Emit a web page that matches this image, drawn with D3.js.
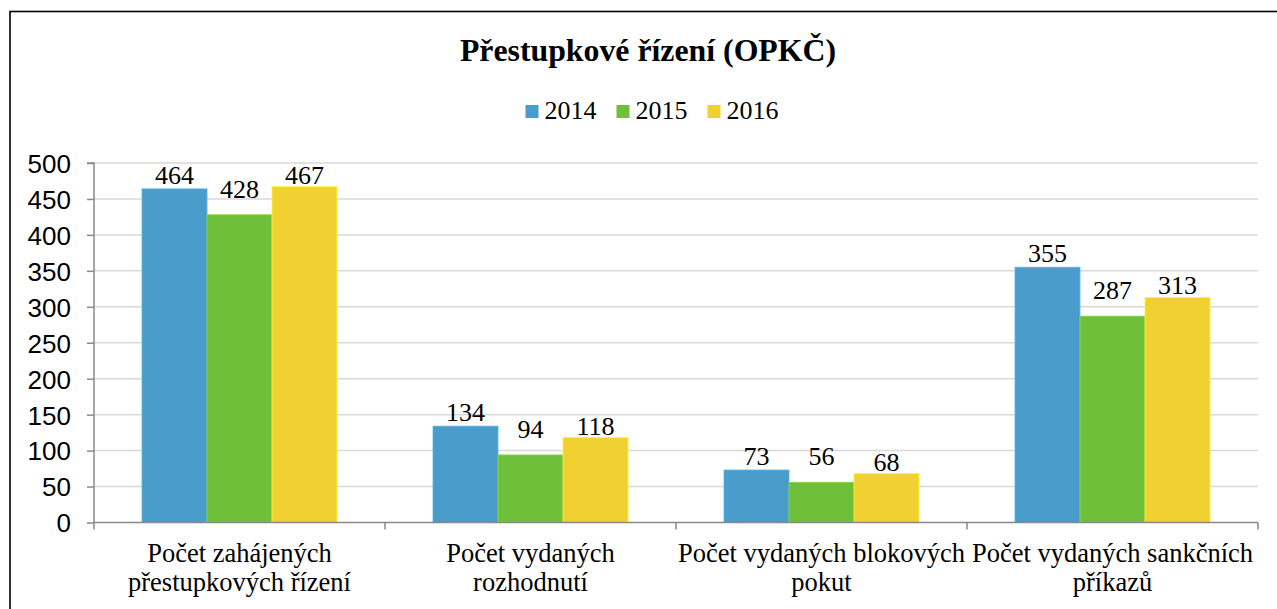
<!DOCTYPE html>
<html>
<head>
<meta charset="utf-8">
<script src="https://cdn.jsdelivr.net/npm/d3@7"></script>
<style>
  html, body { margin: 0; padding: 0; background: #fff; }
  svg { display: block; }
</style>
</head>
<body>
<svg id="chart" width="1277" height="609"></svg>
<script>
const title = "Přestupkové řízení (OPKČ)";
const categories = [
  ["Počet zahájených", "přestupkových řízení"],
  ["Počet vydaných", "rozhodnutí"],
  ["Počet vydaných blokových", "pokut"],
  ["Počet vydaných sankčních", "příkazů"]
];
const seriesNames = ["2014", "2015", "2016"];
const values2014 = [464, 134, 73, 355];
const values2015 = [428, 94, 56, 287];
const values2016 = [467, 118, 68, 313];
const yTicks = [0, 50, 100, 150, 200, 250, 300, 350, 400, 450, 500];

const seriesValues = [values2014, values2015, values2016];
const colors = ["#4a9ccb", "#70bf3a", "#f1d131"];
const labelLift = [5, 17, 3];

const svg = d3.select("#chart");
const serif = "Liberation Serif, Times New Roman, serif";
const sans = "Liberation Sans, Arial, sans-serif";

// chart frame
svg.append("rect").attr("x", 10).attr("y", 11.5).attr("width", 1290).attr("height", 620)
  .attr("fill", "none").attr("stroke", "#000").attr("stroke-width", 1.6);

const plot = { left: 94, right: 1258, top: 163, bottom: 522.5 };

const x0 = d3.scaleBand().domain(d3.range(categories.length))
  .range([plot.left, plot.right]).paddingInner(0).paddingOuter(0);
const groupW = 195;
const x1 = d3.scaleBand().domain(d3.range(seriesNames.length)).range([0, groupW]);
const y = d3.scaleLinear().domain([0, 500]).range([plot.bottom, plot.top]);

// gridlines
svg.append("g").selectAll("line").data(yTicks.filter(d => d > 0)).join("line")
  .attr("x1", plot.left).attr("x2", plot.right)
  .attr("y1", d => y(d)).attr("y2", d => y(d))
  .attr("stroke", "#d9d9d9").attr("stroke-width", 1.5);

// bars
const groups = svg.append("g").selectAll("g").data(categories).join("g")
  .attr("transform", (d, i) => `translate(${x0(i) + (x0.bandwidth() - groupW) / 2},0)`);

groups.selectAll("rect").data((d, i) => seriesValues.map((s, k) => ({ k, v: s[i] }))).join("rect")
  .attr("x", d => x1(d.k)).attr("width", x1.bandwidth())
  .attr("y", d => y(d.v)).attr("height", d => y(0) - y(d.v))
  .attr("fill", d => colors[d.k])
  .attr("stroke", d => d3.color(colors[d.k]).brighter(0.4)).attr("stroke-width", 0.8);

groups.selectAll("text").data((d, i) => seriesValues.map((s, k) => ({ k, v: s[i] }))).join("text")
  .attr("x", d => x1(d.k) + x1.bandwidth() / 2)
  .attr("y", d => y(d.v) - labelLift[d.k])
  .attr("text-anchor", "middle")
  .attr("font-family", serif).attr("font-size", 26).attr("fill", "#000")
  .text(d => d.v);

// y axis
const yAxis = d3.axisLeft(y).tickValues(yTicks).tickSize(7).tickPadding(16);
const gy = svg.append("g").attr("transform", `translate(${plot.left},0)`).call(yAxis);
gy.select(".domain").attr("stroke", "#898989").attr("stroke-width", 1.5).attr("d", `M-7,${y(500)}H0V${y(0)}`);
gy.selectAll(".tick line").attr("stroke", "#898989").attr("stroke-width", 1.5);
gy.selectAll(".tick text").attr("font-family", sans).attr("font-size", 26).attr("fill", "#000").attr("dy", "0.36em");

// x axis
const gx = svg.append("g");
gx.append("line").attr("x1", plot.left).attr("x2", plot.right)
  .attr("y1", y(0)).attr("y2", y(0)).attr("stroke", "#898989").attr("stroke-width", 1.5);
gx.selectAll("line.tk").data(d3.range(categories.length + 1)).join("line").attr("class", "tk")
  .attr("x1", i => plot.left + i * x0.bandwidth()).attr("x2", i => plot.left + i * x0.bandwidth())
  .attr("y1", y(0)).attr("y2", y(0) + 7)
  .attr("stroke", "#898989").attr("stroke-width", 1.5);

const xl = gx.selectAll("text.cat").data(categories).join("text").attr("class", "cat")
  .attr("text-anchor", "middle")
  .attr("font-family", serif).attr("font-size", 26.5).attr("fill", "#000");
xl.each(function (d, i) {
  const t = d3.select(this);
  d.forEach((line, j) => {
    t.append("tspan").attr("x", x0(i) + x0.bandwidth() / 2).attr("y", 562 + j * 29).text(line);
  });
});

// title
svg.append("text").attr("x", 648).attr("y", 61).attr("text-anchor", "middle")
  .attr("font-family", serif).attr("font-weight", "bold").attr("font-size", 31.8).attr("fill", "#000")
  .text(title);

// legend
const legend = svg.append("g");
let lx = 0;
seriesNames.forEach((name, k) => {
  const g = legend.append("g").attr("transform", `translate(${lx},0)`);
  g.append("rect").attr("x", 0).attr("y", 105).attr("width", 13).attr("height", 13).attr("fill", colors[k]);
  const t = g.append("text").attr("x", 19).attr("y", 119)
    .attr("font-family", serif).attr("font-size", 26).attr("fill", "#000").text(name);
  lx += 19 + t.node().getComputedTextLength() + 20;
});
const lw = lx - 20;
legend.attr("transform", `translate(${652 - lw / 2},0)`);
</script>
</body>
</html>
